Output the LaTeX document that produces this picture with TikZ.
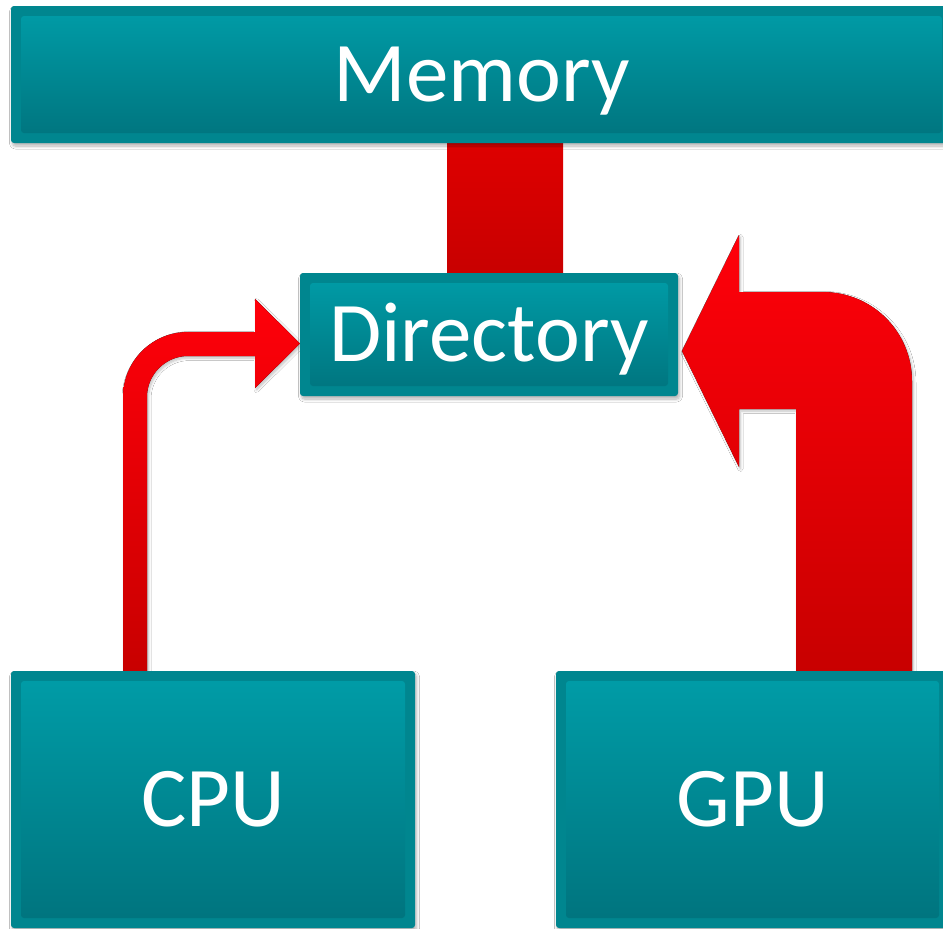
\documentclass[tikz,border=0pt]{standalone}
\usepackage{fontspec}
\setmainfont{Carlito}
\usetikzlibrary{shadows.blur,backgrounds}
\definecolor{tealborder}{RGB}{0,134,143}
\definecolor{tealtop}{RGB}{0,157,168}
\definecolor{tealbot}{RGB}{0,115,125}
\definecolor{redtop}{RGB}{255,0,10}
\definecolor{redbot}{RGB}{200,0,0}
\definecolor{redmidtop}{RGB}{222,0,0}
\tikzset{
  unitbox/.style={draw=none, fill=tealborder, rounded corners=3pt,
    inner sep=0pt, outer sep=0pt, text=white,
    font=\fontsize{85}{90}\selectfont, text height=54pt, text depth=0pt,
    blur shadow={shadow xshift=1.5pt, shadow yshift=-3pt, shadow blur steps=8, shadow blur radius=3pt, shadow opacity=30},
    path picture={\shade[top color=tealtop, bottom color=tealbot]
      ([shift={(10pt,-10pt)}]path picture bounding box.north west) rectangle
      ([shift={(-10pt,10pt)}]path picture bounding box.south east);}},
  redarrow/.style={top color=redtop, bottom color=redbot, draw=none,
    blur shadow={shadow xshift=1.5pt, shadow yshift=-2pt, shadow blur steps=6, shadow blur radius=2.5pt, shadow opacity=25}},
  redbar/.style={top color=redmidtop, bottom color=redbot, draw=none}
}
\begin{document}
\begin{tikzpicture}[x=1pt,y=-1pt]
\useasboundingbox (0,0) rectangle (943,929);
% boxes
\node[unitbox, minimum width=941pt, minimum height=137pt] (memory) at (481.5,74.5) {Memory};
\node[unitbox, minimum width=378pt, minimum height=123pt] (directory) at (489,334.5) {Directory};
\node[unitbox, minimum width=404pt, minimum height=257pt] (cpu) at (213,799.5) {CPU};
\node[unitbox, minimum width=393pt, minimum height=257pt] (gpu) at (752.5,799.5) {GPU};
\begin{pgfonlayer}{background}
\fill[white] (0,0) rectangle (943,929);
% memory <-> directory bar
\fill[redbar] (memory.south -| 447,0) rectangle (directory.north -| 563,0);
% CPU -> Directory bent arrow
\path (directory.west) ++(0,9) coordinate (ctip);
\fill[redarrow] (cpu.north -| 123,0) -- (123,397)
  .. controls (123,361.1) and (152.1,332) .. (188,332) -- (255,332) -- (255,299)
  -- (ctip) -- (255,388) -- (255,356) -- (188,356)
  .. controls (165.4,356) and (147,374.4) .. (147,397) -- (cpu.north -| 147,0) -- cycle;
% GPU -> Directory bent arrow
\path (directory.east) ++(4,16.5) coordinate (gtip);
\fill[redarrow] (gpu.north -| 796,0) -- (796,409) -- (739,409) -- (739,467)
  -- (gtip) -- (739,235) -- (739,292) -- (823,292)
  .. controls (872.2,292) and (912,331.8) .. (912,381) -- (gpu.north -| 912,0) -- cycle;
\end{pgfonlayer}
\end{tikzpicture}
\end{document}
